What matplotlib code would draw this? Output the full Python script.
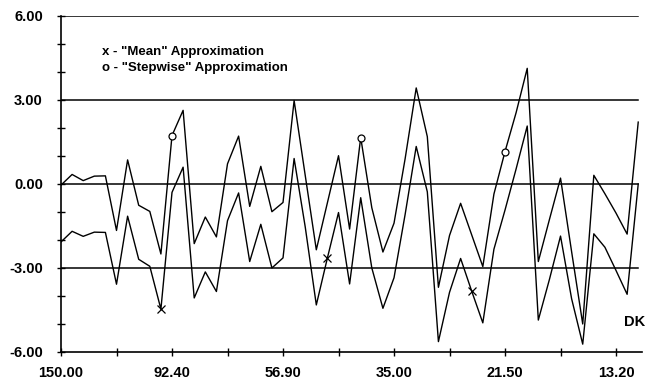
import numpy as np
import matplotlib.pyplot as plt

plt.rcParams['font.family'] = ['Liberation Sans', 'DejaVu Sans']

# DK values written under every tenth step
dk_labels = ["150.00", "92.40", "56.90", "35.00", "21.50", "13.20"]
y_labels = ["-6.00", "-3.00", "0.00", "3.00", "6.00"]
y_major = [-6, -3, 0, 3, 6]

# upper and lower bound curves, one value per step
upper = [-0.05, 0.33, 0.11, 0.27, 0.28, -1.67, 0.85, -0.77, -0.99, -2.51,
         1.72, 2.62, -2.14, -1.19, -1.90, 0.71, 1.70, -0.81, 0.62, -1.00,
         -0.67, 2.97, 0.30, -2.36, -0.68, 1.00, -1.62, 1.65, -0.86, -2.44,
         -1.41, 0.89, 3.42, 1.68, -3.70, -1.85, -0.70, -1.83, -2.96, -0.37,
         1.15, 2.54, 4.12, -2.78, -1.28, 0.20, -2.43, -5.01, 0.30, -0.36,
         -1.05, -1.80, 2.20]
lower = [-2.08, -1.70, -1.88, -1.73, -1.74, -3.59, -1.16, -2.70, -2.95, -4.48,
         -0.31, 0.59, -4.08, -3.15, -3.85, -1.32, -0.33, -2.78, -1.45, -3.01,
         -2.65, 0.90, -1.54, -4.33, -2.65, -1.03, -3.58, -0.50, -3.01, -4.45,
         -3.36, -1.10, 1.33, -0.29, -5.64, -3.88, -2.67, -3.84, -4.97, -2.34,
         -0.94, 0.53, 2.06, -4.87, -3.42, -1.87, -4.11, -5.73, -1.79, -2.27,
         -3.10, -3.95, -0.01]

# "Mean" (x) and "Stepwise" (o) approximation points
mean_idx = [9, 24, 37]
mean_val = [-4.48, -2.65, -3.84]
step_idx = [10, 27, 40]
step_val = [1.72, 1.65, 1.15]

steps = np.arange(len(upper))

fig = plt.figure(figsize=(6.47, 3.85), dpi=100)
ax = fig.add_axes([61 / 647, 1 - 351.7 / 385, 581 / 647, 336 / 385])

for v in [6, 3, 0, -3]:
    ax.axhline(v, xmin=0, xmax=577 / 581, color='black', lw=1.1, zorder=1)

ax.plot(steps, upper, color='black', lw=1.0, zorder=2)
ax.plot(steps, lower, color='black', lw=1.0, zorder=2)
ax.plot(step_idx, step_val, 'o', mfc='white', mec='black', ms=5, mew=0.9,
        zorder=3, clip_on=False)
ax.plot(mean_idx, mean_val, 'x', color='black', ms=5.5, mew=0.9, zorder=3)

ax.set_xlim(0, 52.34)
ax.set_ylim(-6, 6)

ax.spines['top'].set_visible(False)
ax.spines['right'].set_visible(False)
for s in ['left', 'bottom']:
    ax.spines[s].set_linewidth(1.2)

ax.set_xticks(range(0, 51, 10))
ax.set_xticklabels(dk_labels)
ax.set_xticks(range(5, 51, 10), minor=True)
ax.set_yticks(y_major)
ax.set_yticklabels(y_labels)
ax.set_yticks(range(-6, 7), minor=True)

ax.tick_params(which='both', direction='inout', length=6, width=1.0)
ax.tick_params(axis='x', pad=7)
ax.tick_params(axis='y', pad=10)
for lab in ax.get_xticklabels() + ax.get_yticklabels():
    lab.set_fontsize(10.5)
    lab.set_fontweight('bold')

fig.text(101.7 / 647, 1 - 51.7 / 385, 'x - "Mean" Approximation',
         fontsize=9.5, fontweight='bold', va='center', ha='left')
fig.text(101.7 / 647, 1 - 68.3 / 385, 'o - "Stepwise" Approximation',
         fontsize=9.5, fontweight='bold', va='center', ha='left')
fig.text(645 / 647, 1 - 322 / 385, 'DK', fontsize=10.5, fontweight='bold',
         va='center', ha='right')

fig.savefig('out.png', dpi=100)
